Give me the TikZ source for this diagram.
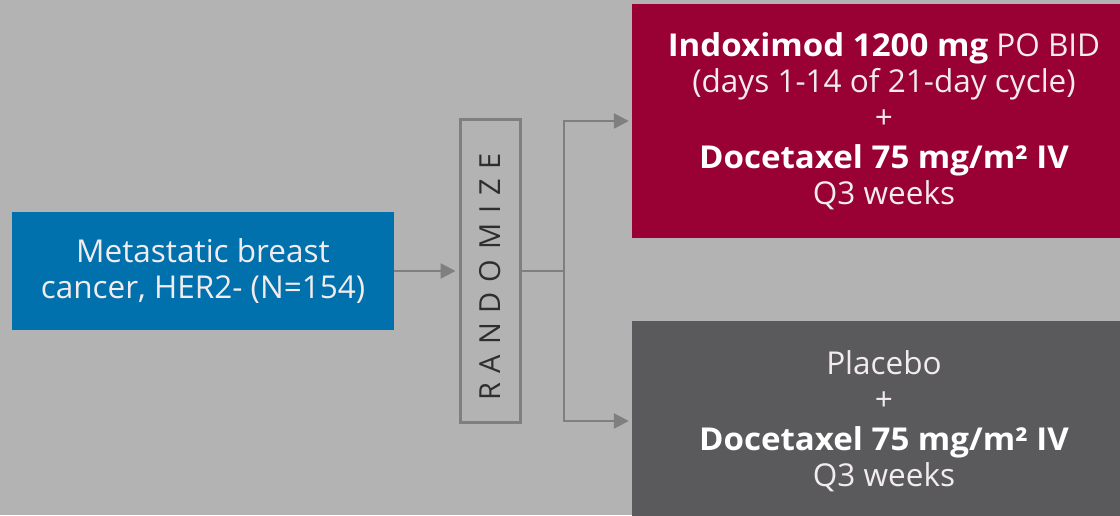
\documentclass[tikz,border=0pt]{standalone}
\usepackage{fontspec}
\setmainfont{Open Sans}[BoldFeatures={FakeStretch=1.05}]
\usetikzlibrary{arrows.meta}
\definecolor{bgc}{HTML}{B3B3B3}
\definecolor{popblue}{HTML}{0071AD}
\definecolor{armred}{HTML}{990033}
\definecolor{armdark}{HTML}{5A5A5C}
\definecolor{linec}{HTML}{7F7F7F}
\definecolor{randtxt}{HTML}{2E2E2E}
\definecolor{softwhite}{HTML}{F2ECEE}
\tikzset{
  boxtext/.style={font=\fontsize{31.5}{36}\selectfont, align=center, inner sep=0pt},
  popbox/.style={boxtext, fill=popblue, text=softwhite, minimum width=382, minimum height=118},
  armbox/.style={boxtext, text=softwhite, minimum width=504},
  randbox/.style={draw=linec, line width=3pt, fill=bgc, minimum width=302, minimum height=60, inner sep=0pt, rotate=90, text=randtxt, font=\fontsize{29}{30}\selectfont},
  conn/.style={draw=linec, line width=2.5pt},
  arr/.style={conn, -{Triangle[length=15pt,width=15pt]}, shorten >=3pt},
}
\begin{document}
\begin{tikzpicture}[x=1pt,y=1pt]
\useasboundingbox (0,0) rectangle (1120,515);
\clip (0,0) rectangle (1120,515);
\fill[bgc] (0,0) rectangle (1120,515);
\node[popbox] (pop) at (203,244) {Metastatic breast\\cancer, HER2- (N=154)};
\node[randbox] (rand) at (490,244) {\addfontfeature{LetterSpace=34}RANDOMIZE\kern12pt};
\node[armbox, fill=armred, minimum height=234] (arm1) at (884,394)
  {\textcolor{white}{\textbf{Indoximod 1200 mg}} PO BID\\(days 1-14 of 21-day cycle)\\+\\[4pt]\textcolor{white}{\textbf{Docetaxel 75 mg/m² IV}}\\Q3 weeks};
\node[armbox, fill=armdark, minimum height=200] (arm2) at (884,94)
  {Placebo\\+\\[4pt]\textcolor{white}{\textbf{Docetaxel 75 mg/m² IV}}\\Q3 weeks};
\coordinate (branch) at (564,244);
\draw[arr] (pop.east) -- (rand.north);
\draw[conn] (rand.south) -- (branch);
\draw[arr] (branch) |- (arm1.west);
\draw[arr] (branch) |- (arm2.west);
\end{tikzpicture}
\end{document}
